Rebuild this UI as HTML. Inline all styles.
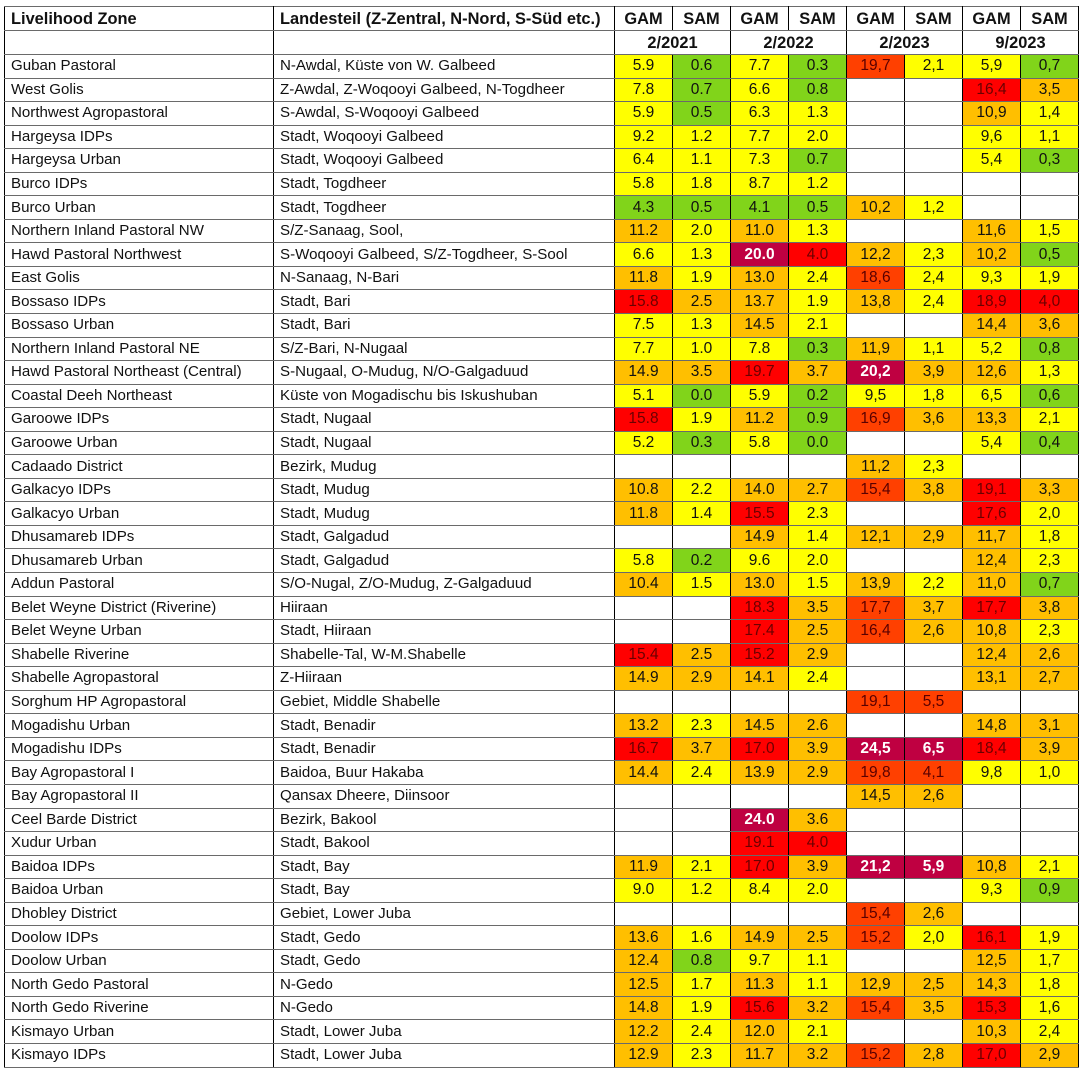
<!DOCTYPE html>
<html><head><meta charset="utf-8">
<style>
html,body{margin:0;padding:0;background:#fff;width:1085px;height:1073px;overflow:hidden}
table{position:absolute;left:4px;top:6px;border-collapse:collapse;table-layout:fixed;font-family:"Liberation Sans",sans-serif;font-size:15.1px;color:#111}
td{border-left:1px solid #000;border-right:1px solid #000;border-top:1px solid #6a6a6a;border-bottom:1px solid #6a6a6a;padding:0 0 0 6px;height:22.55px;line-height:20px;white-space:nowrap;overflow:hidden}
td.n{text-align:center;padding:0;font-size:15.5px}
tr.h td{font-weight:bold;height:23px;font-size:16.4px}
tr.h td.n{text-align:center}
.y{background:#ffff00}.g{background:#81d41a}.o{background:#ffbf00}
.r{background:#ff0000;color:#6b0000}.q{background:#ff4000;color:#5a0000}
.m{background:#bf0041;color:#fff;font-weight:bold}
</style></head><body>
<table>
<colgroup><col style="width:269px"><col style="width:341px"><col style="width:58px"><col style="width:58px"><col style="width:58px"><col style="width:58px"><col style="width:58px"><col style="width:58px"><col style="width:58px"><col style="width:58px"></colgroup>
<tr class="h"><td>Livelihood Zone</td><td>Landesteil (Z-Zentral, N-Nord, S-Süd etc.)</td><td class="n">GAM</td><td class="n">SAM</td><td class="n">GAM</td><td class="n">SAM</td><td class="n">GAM</td><td class="n">SAM</td><td class="n">GAM</td><td class="n">SAM</td></tr>
<tr class="h"><td></td><td></td><td class="n" colspan="2">2/2021</td><td class="n" colspan="2">2/2022</td><td class="n" colspan="2">2/2023</td><td class="n" colspan="2">9/2023</td></tr>
<tr><td>Guban Pastoral</td><td>N-Awdal, Küste von W. Galbeed</td><td class="n y">5.9</td><td class="n g">0.6</td><td class="n y">7.7</td><td class="n g">0.3</td><td class="n q">19,7</td><td class="n y">2,1</td><td class="n y">5,9</td><td class="n g">0,7</td></tr>
<tr><td>West Golis</td><td>Z-Awdal, Z-Woqooyi Galbeed, N-Togdheer</td><td class="n y">7.8</td><td class="n g">0.7</td><td class="n y">6.6</td><td class="n g">0.8</td><td class="n"></td><td class="n"></td><td class="n r">16,4</td><td class="n o">3,5</td></tr>
<tr><td>Northwest Agropastoral</td><td>S-Awdal, S-Woqooyi Galbeed</td><td class="n y">5.9</td><td class="n g">0.5</td><td class="n y">6.3</td><td class="n y">1.3</td><td class="n"></td><td class="n"></td><td class="n o">10,9</td><td class="n y">1,4</td></tr>
<tr><td>Hargeysa IDPs</td><td>Stadt, Woqooyi Galbeed</td><td class="n y">9.2</td><td class="n y">1.2</td><td class="n y">7.7</td><td class="n y">2.0</td><td class="n"></td><td class="n"></td><td class="n y">9,6</td><td class="n y">1,1</td></tr>
<tr><td>Hargeysa Urban</td><td>Stadt, Woqooyi Galbeed</td><td class="n y">6.4</td><td class="n y">1.1</td><td class="n y">7.3</td><td class="n g">0.7</td><td class="n"></td><td class="n"></td><td class="n y">5,4</td><td class="n g">0,3</td></tr>
<tr><td>Burco IDPs</td><td>Stadt, Togdheer</td><td class="n y">5.8</td><td class="n y">1.8</td><td class="n y">8.7</td><td class="n y">1.2</td><td class="n"></td><td class="n"></td><td class="n"></td><td class="n"></td></tr>
<tr><td>Burco Urban</td><td>Stadt, Togdheer</td><td class="n g">4.3</td><td class="n g">0.5</td><td class="n g">4.1</td><td class="n g">0.5</td><td class="n o">10,2</td><td class="n y">1,2</td><td class="n"></td><td class="n"></td></tr>
<tr><td>Northern Inland Pastoral NW</td><td>S/Z-Sanaag, Sool,</td><td class="n o">11.2</td><td class="n y">2.0</td><td class="n o">11.0</td><td class="n y">1.3</td><td class="n"></td><td class="n"></td><td class="n o">11,6</td><td class="n y">1,5</td></tr>
<tr><td>Hawd Pastoral Northwest</td><td>S-Woqooyi Galbeed, S/Z-Togdheer, S-Sool</td><td class="n y">6.6</td><td class="n y">1.3</td><td class="n m">20.0</td><td class="n r">4.0</td><td class="n o">12,2</td><td class="n y">2,3</td><td class="n o">10,2</td><td class="n g">0,5</td></tr>
<tr><td>East Golis</td><td>N-Sanaag, N-Bari</td><td class="n o">11.8</td><td class="n y">1.9</td><td class="n o">13.0</td><td class="n y">2.4</td><td class="n q">18,6</td><td class="n y">2,4</td><td class="n y">9,3</td><td class="n y">1,9</td></tr>
<tr><td>Bossaso IDPs</td><td>Stadt, Bari</td><td class="n r">15.8</td><td class="n o">2.5</td><td class="n o">13.7</td><td class="n y">1.9</td><td class="n o">13,8</td><td class="n y">2,4</td><td class="n r">18,9</td><td class="n r">4,0</td></tr>
<tr><td>Bossaso Urban</td><td>Stadt, Bari</td><td class="n y">7.5</td><td class="n y">1.3</td><td class="n o">14.5</td><td class="n y">2.1</td><td class="n"></td><td class="n"></td><td class="n o">14,4</td><td class="n o">3,6</td></tr>
<tr><td>Northern Inland Pastoral NE</td><td>S/Z-Bari, N-Nugaal</td><td class="n y">7.7</td><td class="n y">1.0</td><td class="n y">7.8</td><td class="n g">0.3</td><td class="n o">11,9</td><td class="n y">1,1</td><td class="n y">5,2</td><td class="n g">0,8</td></tr>
<tr><td>Hawd Pastoral Northeast (Central)</td><td>S-Nugaal, O-Mudug, N/O-Galgaduud</td><td class="n o">14.9</td><td class="n o">3.5</td><td class="n r">19.7</td><td class="n o">3.7</td><td class="n m">20,2</td><td class="n o">3,9</td><td class="n o">12,6</td><td class="n y">1,3</td></tr>
<tr><td>Coastal Deeh Northeast</td><td>Küste von Mogadischu bis Iskushuban</td><td class="n y">5.1</td><td class="n g">0.0</td><td class="n y">5.9</td><td class="n g">0.2</td><td class="n y">9,5</td><td class="n y">1,8</td><td class="n y">6,5</td><td class="n g">0,6</td></tr>
<tr><td>Garoowe IDPs</td><td>Stadt, Nugaal</td><td class="n r">15.8</td><td class="n y">1.9</td><td class="n o">11.2</td><td class="n g">0.9</td><td class="n q">16,9</td><td class="n o">3,6</td><td class="n o">13,3</td><td class="n y">2,1</td></tr>
<tr><td>Garoowe Urban</td><td>Stadt, Nugaal</td><td class="n y">5.2</td><td class="n g">0.3</td><td class="n y">5.8</td><td class="n g">0.0</td><td class="n"></td><td class="n"></td><td class="n y">5,4</td><td class="n g">0,4</td></tr>
<tr><td>Cadaado District</td><td>Bezirk, Mudug</td><td class="n"></td><td class="n"></td><td class="n"></td><td class="n"></td><td class="n o">11,2</td><td class="n y">2,3</td><td class="n"></td><td class="n"></td></tr>
<tr><td>Galkacyo IDPs</td><td>Stadt, Mudug</td><td class="n o">10.8</td><td class="n y">2.2</td><td class="n o">14.0</td><td class="n o">2.7</td><td class="n q">15,4</td><td class="n o">3,8</td><td class="n r">19,1</td><td class="n o">3,3</td></tr>
<tr><td>Galkacyo Urban</td><td>Stadt, Mudug</td><td class="n o">11.8</td><td class="n y">1.4</td><td class="n r">15.5</td><td class="n y">2.3</td><td class="n"></td><td class="n"></td><td class="n r">17,6</td><td class="n y">2,0</td></tr>
<tr><td>Dhusamareb IDPs</td><td>Stadt, Galgadud</td><td class="n"></td><td class="n"></td><td class="n o">14.9</td><td class="n y">1.4</td><td class="n o">12,1</td><td class="n o">2,9</td><td class="n o">11,7</td><td class="n y">1,8</td></tr>
<tr><td>Dhusamareb Urban</td><td>Stadt, Galgadud</td><td class="n y">5.8</td><td class="n g">0.2</td><td class="n y">9.6</td><td class="n y">2.0</td><td class="n"></td><td class="n"></td><td class="n o">12,4</td><td class="n y">2,3</td></tr>
<tr><td>Addun Pastoral</td><td>S/O-Nugal, Z/O-Mudug, Z-Galgaduud</td><td class="n o">10.4</td><td class="n y">1.5</td><td class="n o">13.0</td><td class="n y">1.5</td><td class="n o">13,9</td><td class="n y">2,2</td><td class="n o">11,0</td><td class="n g">0,7</td></tr>
<tr><td>Belet Weyne District (Riverine)</td><td>Hiiraan</td><td class="n"></td><td class="n"></td><td class="n r">18.3</td><td class="n o">3.5</td><td class="n q">17,7</td><td class="n o">3,7</td><td class="n r">17,7</td><td class="n o">3,8</td></tr>
<tr><td>Belet Weyne Urban</td><td>Stadt, Hiiraan</td><td class="n"></td><td class="n"></td><td class="n r">17.4</td><td class="n o">2.5</td><td class="n q">16,4</td><td class="n o">2,6</td><td class="n o">10,8</td><td class="n y">2,3</td></tr>
<tr><td>Shabelle Riverine</td><td>Shabelle-Tal, W-M.Shabelle</td><td class="n r">15.4</td><td class="n o">2.5</td><td class="n r">15.2</td><td class="n o">2.9</td><td class="n"></td><td class="n"></td><td class="n o">12,4</td><td class="n o">2,6</td></tr>
<tr><td>Shabelle Agropastoral</td><td>Z-Hiiraan</td><td class="n o">14.9</td><td class="n o">2.9</td><td class="n o">14.1</td><td class="n y">2.4</td><td class="n"></td><td class="n"></td><td class="n o">13,1</td><td class="n o">2,7</td></tr>
<tr><td>Sorghum HP Agropastoral</td><td>Gebiet, Middle Shabelle</td><td class="n"></td><td class="n"></td><td class="n"></td><td class="n"></td><td class="n q">19,1</td><td class="n q">5,5</td><td class="n"></td><td class="n"></td></tr>
<tr><td>Mogadishu Urban</td><td>Stadt, Benadir</td><td class="n o">13.2</td><td class="n y">2.3</td><td class="n o">14.5</td><td class="n o">2.6</td><td class="n"></td><td class="n"></td><td class="n o">14,8</td><td class="n o">3,1</td></tr>
<tr><td>Mogadishu IDPs</td><td>Stadt, Benadir</td><td class="n r">16.7</td><td class="n o">3.7</td><td class="n r">17.0</td><td class="n o">3.9</td><td class="n m">24,5</td><td class="n m">6,5</td><td class="n r">18,4</td><td class="n o">3,9</td></tr>
<tr><td>Bay Agropastoral I</td><td>Baidoa, Buur Hakaba</td><td class="n o">14.4</td><td class="n y">2.4</td><td class="n o">13.9</td><td class="n o">2.9</td><td class="n q">19,8</td><td class="n q">4,1</td><td class="n y">9,8</td><td class="n y">1,0</td></tr>
<tr><td>Bay Agropastoral II</td><td>Qansax Dheere, Diinsoor</td><td class="n"></td><td class="n"></td><td class="n"></td><td class="n"></td><td class="n o">14,5</td><td class="n o">2,6</td><td class="n"></td><td class="n"></td></tr>
<tr><td>Ceel Barde District</td><td>Bezirk, Bakool</td><td class="n"></td><td class="n"></td><td class="n m">24.0</td><td class="n o">3.6</td><td class="n"></td><td class="n"></td><td class="n"></td><td class="n"></td></tr>
<tr><td>Xudur Urban</td><td>Stadt, Bakool</td><td class="n"></td><td class="n"></td><td class="n r">19.1</td><td class="n r">4.0</td><td class="n"></td><td class="n"></td><td class="n"></td><td class="n"></td></tr>
<tr><td>Baidoa IDPs</td><td>Stadt, Bay</td><td class="n o">11.9</td><td class="n y">2.1</td><td class="n r">17.0</td><td class="n o">3.9</td><td class="n m">21,2</td><td class="n m">5,9</td><td class="n o">10,8</td><td class="n y">2,1</td></tr>
<tr><td>Baidoa Urban</td><td>Stadt, Bay</td><td class="n y">9.0</td><td class="n y">1.2</td><td class="n y">8.4</td><td class="n y">2.0</td><td class="n"></td><td class="n"></td><td class="n y">9,3</td><td class="n g">0,9</td></tr>
<tr><td>Dhobley District</td><td>Gebiet, Lower Juba</td><td class="n"></td><td class="n"></td><td class="n"></td><td class="n"></td><td class="n q">15,4</td><td class="n o">2,6</td><td class="n"></td><td class="n"></td></tr>
<tr><td>Doolow IDPs</td><td>Stadt, Gedo</td><td class="n o">13.6</td><td class="n y">1.6</td><td class="n o">14.9</td><td class="n o">2.5</td><td class="n q">15,2</td><td class="n y">2,0</td><td class="n r">16,1</td><td class="n y">1,9</td></tr>
<tr><td>Doolow Urban</td><td>Stadt, Gedo</td><td class="n o">12.4</td><td class="n g">0.8</td><td class="n y">9.7</td><td class="n y">1.1</td><td class="n"></td><td class="n"></td><td class="n o">12,5</td><td class="n y">1,7</td></tr>
<tr><td>North Gedo Pastoral</td><td>N-Gedo</td><td class="n o">12.5</td><td class="n y">1.7</td><td class="n o">11.3</td><td class="n y">1.1</td><td class="n o">12,9</td><td class="n o">2,5</td><td class="n o">14,3</td><td class="n y">1,8</td></tr>
<tr><td>North Gedo Riverine</td><td>N-Gedo</td><td class="n o">14.8</td><td class="n y">1.9</td><td class="n r">15.6</td><td class="n o">3.2</td><td class="n q">15,4</td><td class="n o">3,5</td><td class="n r">15,3</td><td class="n y">1,6</td></tr>
<tr><td>Kismayo Urban</td><td>Stadt, Lower Juba</td><td class="n o">12.2</td><td class="n y">2.4</td><td class="n o">12.0</td><td class="n y">2.1</td><td class="n"></td><td class="n"></td><td class="n o">10,3</td><td class="n y">2,4</td></tr>
<tr><td>Kismayo IDPs</td><td>Stadt, Lower Juba</td><td class="n o">12.9</td><td class="n y">2.3</td><td class="n o">11.7</td><td class="n o">3.2</td><td class="n q">15,2</td><td class="n o">2,8</td><td class="n r">17,0</td><td class="n o">2,9</td></tr>
</table>
</body></html>
